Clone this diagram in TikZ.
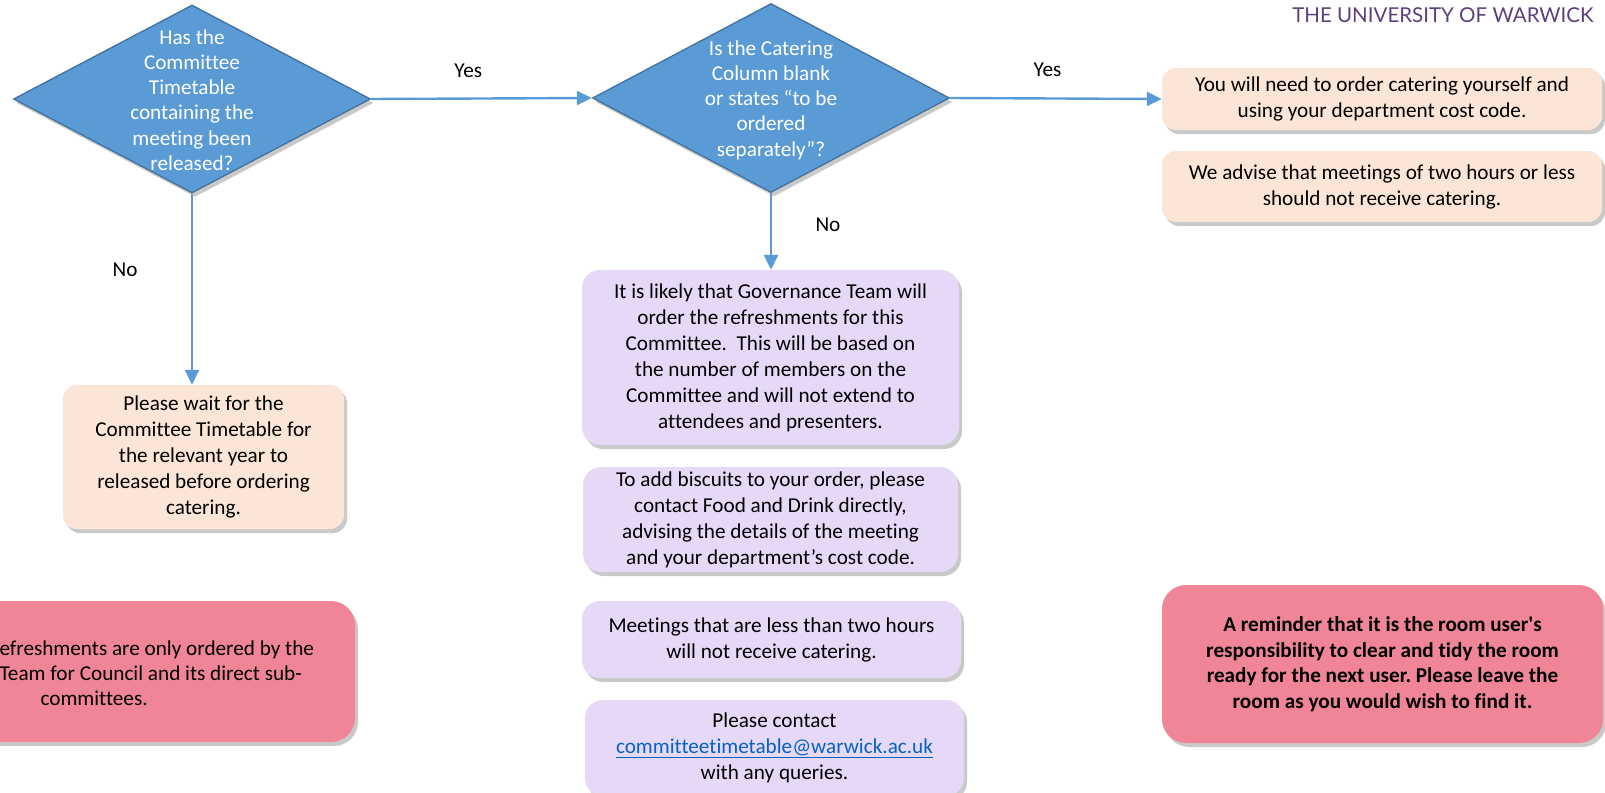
\documentclass[tikz,border=0pt]{standalone}
\usepackage{fontspec}
\setmainfont{Carlito}[Ligatures={TeX,NoCommon}]
\newfontfamily\warwickfont{Lato}
\usetikzlibrary{shapes.geometric,arrows.meta,shadows}
\frenchspacing

\definecolor{decisionblue}{HTML}{5B9BD5}
\definecolor{decisionedge}{HTML}{41719C}
\definecolor{peach}{HTML}{FBE5D6}
\definecolor{lavender}{HTML}{E6D9F8}
\definecolor{alertpink}{HTML}{EF8597}
\definecolor{warwickpurple}{HTML}{5E3F7D}
\definecolor{linkblue}{HTML}{0563C1}

\tikzset{
  boxshadow/.style={drop shadow={shadow xshift=3pt,shadow yshift=-4pt,opacity=.3,fill=black!70}},
  decision/.style={diamond, draw=decisionedge, line width=1.3pt, fill=decisionblue, inner sep=0pt, boxshadow},
  decisiontext/.style={text=white, align=center, font=\fontsize{21.2}{25.3}\selectfont},
  infobox/.style={rounded corners=14pt, fill=peach, align=center, inner sep=0pt, boxshadow, font=\fontsize{21.2}{26}\selectfont},
  teambox/.style={infobox, fill=lavender, rounded corners=18pt},
  alertbox/.style={infobox, fill=alertpink, rounded corners=24pt},
  flow/.style={draw=decisionblue, line width=2.4pt, -{Triangle[length=15pt,width=14pt]}},
  answer/.style={font=\fontsize{21.2}{24}\selectfont},
}

\begin{document}
\begin{tikzpicture}[x=1pt,y=-1pt]
    \useasboundingbox (0,0) rectangle (1605,792);

    % Header
    \node[anchor=east, text=warwickpurple, font=\warwickfont\fontsize{20.5}{24}\selectfont] (uni) at (1597,15) {THE UNIVERSITY OF WARWICK};

    % Decisions
    \node[decision, minimum width=357pt, minimum height=188pt] (q1) at (192,99) {};
    \node[decisiontext] (q1text) at (192,100) {Has the\\Committee\\Timetable\\containing the\\meeting been\\released?};
    \node[decision, minimum width=357pt, minimum height=189pt] (q2) at (771,98) {};
    \node[decisiontext] (q2text) at (771,100) {Is the Catering\\Column blank\\or states “to be\\ordered\\separately”?};

    % Outcome boxes (right)
    \node[infobox, minimum width=440pt, minimum height=62pt] (yourself) at (1382,99) {You will need to order catering yourself and\\using your department cost code.};
    \node[infobox, minimum width=440pt, minimum height=71pt] (advice) at (1382,186.5) {We advise that meetings of two hours or less\\should not receive catering.};

    % Outcome box (left)
    \node[infobox, minimum width=281pt, minimum height=144pt] (wait) at (203.5,457) {Please wait for the\\Committee Timetable for\\the relevant year to\\released before ordering\\catering.};

    % Governance boxes (middle)
    \node[teambox, minimum width=377pt, minimum height=175pt] (gov) at (770.5,357.5) {It is likely that Governance Team will\\order the refreshments for this\\Committee.\ \ This will be based on\\the number of members on the\\Committee and will not extend to\\attendees and presenters.};
    \node[teambox, minimum width=375pt, minimum height=105pt] (biscuits) at (770.5,519.5) {To add biscuits to your order, please\\contact Food and Drink directly,\\advising the details of the meeting\\and your department’s cost code.};
    \node[teambox, minimum width=379pt, minimum height=77pt] (less) at (771.5,639.5) {Meetings that are less than two hours\\will not receive catering.};
    \node[teambox, minimum width=379pt, minimum height=96pt] (contact) at (774.5,748) {Please contact\\{\color{linkblue}\underline{committeetimetable@warwick.ac.uk}}\\with any queries.};

    % Reminders
    \node[alertbox, minimum width=520pt, minimum height=141pt] (council) at (95,671.5) {};
    \node[anchor=west, align=left, font=\fontsize{21.2}{25}\selectfont] (counciltext) at (-4,673) {efreshments are only ordered by the\\Team for Council and its direct sub-\\\hspace*{41pt}committees.};
    \node[alertbox, minimum width=441pt, minimum height=158pt, font=\bfseries\fontsize{21.2}{25.5}\selectfont] (reminder) at (1382.5,664) {A reminder that it is the room user\textquotesingle s\\responsibility to clear and tidy the room\\ready for the next user. Please leave the\\room as you would wish to find it.};

    % Arrows
    \draw[flow] (q1.east) -- (q2.west) node[answer, pos=.44, yshift=28pt] {Yes};
    \draw[flow] (q2.east) -- (yourself.west) node[answer, pos=.46, yshift=29pt] {Yes};
    \draw[flow] (q1.south) -- (q1.south |- wait.north) node[answer, pos=.4, left=50pt] {No};
    \draw[flow] (q2.south) -- (q2.south |- gov.north) node[answer, pos=.41, right=40pt] {No};
\end{tikzpicture}
\end{document}
